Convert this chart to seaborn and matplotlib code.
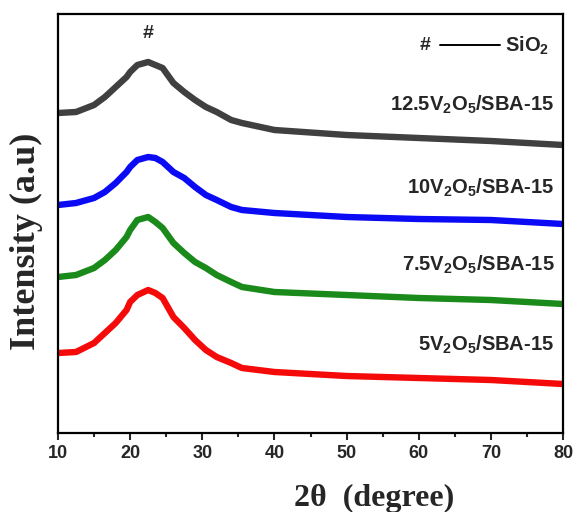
import numpy as np
import pandas as pd
import matplotlib
matplotlib.use("Agg")
import matplotlib.pyplot as plt
import seaborn as sns

# 2theta positions (degree) at which the curves were read
two_theta = [10, 12.5, 15, 16.5, 18, 19.5, 20, 21, 22.5, 23.5, 24.5, 26, 27.5,
             29, 30.5, 32, 34, 35.5, 40, 50, 60, 70, 80]

# Intensity (a.u., stacked/offset as in the figure)
i_125 = [320, 321, 328, 336, 346, 356, 361, 368, 371, 368, 365, 350, 341,
         333, 326, 321, 313, 310, 303, 298, 295, 292, 288]
i_10 = [228, 230, 235, 241, 250, 261, 266, 273, 276, 275, 271, 261, 255,
        246, 238, 233, 226, 223, 220, 216, 214, 213, 209]
i_75 = [156, 158, 165, 173, 183, 196, 203, 213, 216, 211, 205, 190, 180,
        171, 165, 158, 151, 146, 141, 138, 135, 133, 129]
i_5 = [80, 81, 90, 100, 110, 123, 131, 138, 143, 140, 135, 116, 105,
       93, 83, 76, 70, 65, 61, 57, 55, 53, 49]

samples = ["12.5V2O5/SBA-15", "10V2O5/SBA-15", "7.5V2O5/SBA-15", "5V2O5/SBA-15"]
labels = [r"12.5V$_2$O$_5$/SBA-15", r"10V$_2$O$_5$/SBA-15",
          r"7.5V$_2$O$_5$/SBA-15", r"5V$_2$O$_5$/SBA-15"]
colors = ["#404040", "#0a0af5", "#1a8a1a", "#f50a0a"]
label_y = [328, 245, 168, 88]

xticks = [10, 20, 30, 40, 50, 60, 70, 80]

sns.set_style("white")
plt.rcParams["font.family"] = ["Liberation Sans", "DejaVu Sans"]
plt.rcParams["mathtext.fontset"] = "custom"
plt.rcParams["mathtext.rm"] = "Liberation Sans:bold"
plt.rcParams["mathtext.it"] = "Liberation Sans:bold"
plt.rcParams["mathtext.bf"] = "Liberation Sans:bold"

df = pd.concat([
    pd.DataFrame({"2theta": two_theta, "I": vals, "sample": s})
    for s, vals in zip(samples, [i_125, i_10, i_75, i_5])
])

fig = plt.figure(figsize=(5.75, 5.12), dpi=100)
ax = fig.add_axes([58 / 575, 1 - 433 / 512, 505 / 575, 419 / 512])

sns.lineplot(data=df, x="2theta", y="I", hue="sample", hue_order=samples,
             palette=colors, linewidth=4.6, legend=False, ax=ax, sort=True,
             solid_joinstyle="round")

ax.set_xlim(10, 80)
ax.set_ylim(0, 419)
ax.set_yticks([])
ax.set_xticks(xticks)
ax.set_xticklabels([str(t) for t in xticks], fontsize=13, fontweight="bold")
ax.set_xticks(range(15, 80, 10), minor=True)
ax.tick_params(axis="x", which="major", direction="out", length=5, width=1.5, bottom=True, pad=4)
ax.tick_params(axis="x", which="minor", direction="out", length=3, width=1.5, bottom=True)
for sp in ax.spines.values():
    sp.set_linewidth(1.6)
    sp.set_color("black")

ax.set_xlabel("2θ  (degree)", fontsize=23, fontweight="bold", family="Liberation Serif")
ax.xaxis.set_label_coords(0.626, -0.122)
ax.set_ylabel("Intensity (a.u)", fontsize=26, fontweight="bold", family="Liberation Serif")
ax.yaxis.set_label_coords(-0.030, 0.458)

for lab, yy in zip(labels, label_y):
    ax.text(78.8, yy, lab, ha="right", va="center", fontsize=14.5, fontweight="bold")

ax.text(22.5, 400, "#", ha="center", va="center", fontsize=14, fontweight="bold")
ax.text(60.9, 388, "#", ha="center", va="center", fontsize=14, fontweight="bold")
ax.plot([63.0, 71.3], [388, 388], color="black", linewidth=1.4)
ax.text(72.0, 387, r"SiO$_2$", ha="left", va="center", fontsize=14.5, fontweight="bold")

fig.savefig("out.png", dpi=100)
